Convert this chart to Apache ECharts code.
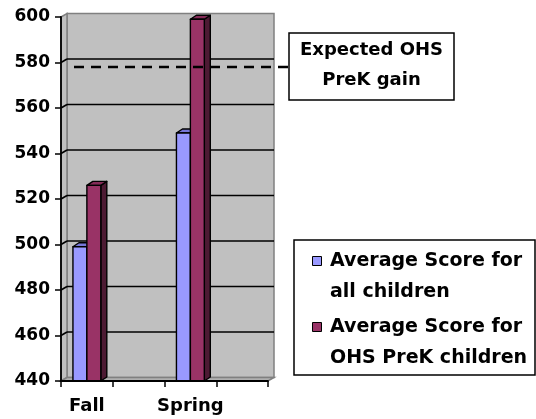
<!DOCTYPE html>
<html><head><meta charset="utf-8">
<script src="https://cdn.jsdelivr.net/npm/echarts@6/dist/echarts.min.js"></script>
<style>html,body{margin:0;padding:0;background:#fff}#c{width:536px;height:419px}</style>
</head><body><div id="c"></div>
<script>
// ---- data ----
const categories = ['Fall', '', 'Spring', ''];
const allChildren = [499, null, 549, null];
const ohsPrek = [526, null, 599, null];
const seriesNames = ['Average Score for\nall children', 'Average Score for\nOHS PreK children'];
const yMin = 440, yMax = 600, yInterval = 20;
const expectedGain = 578;
const calloutText = 'Expected OHS\nPreK gain';

// ---- style ----
const FONT = 'DejaVu Sans';
const DX = 6, DY = -3.5;           // 3D depth of walls
const BDX = 6, BDY = -4;           // 3D depth of bars
const palette = [
  {front: '#9999FF', top: '#7777d9', side: '#4d4d80'},
  {front: '#993366', top: '#852b58', side: '#4d1a33'}
];

const chart = echarts.init(document.getElementById('c'), null, {renderer: 'canvas'});

function wallsRender(params, api) {
  const cs = params.coordSys;
  const x0 = cs.x, x1 = cs.x + cs.width, yt = cs.y, yb = cs.y + cs.height;
  const children = [];
  children.push({type: 'rect', shape: {x: x0 + DX, y: yt + DY, width: cs.width, height: cs.height},
    style: {fill: '#C0C0C0', stroke: '#808080', lineWidth: 1.5}});
  children.push({type: 'polygon', shape: {points: [[x0, yt], [x0 + DX, yt + DY], [x0 + DX, yb + DY], [x0, yb]]},
    style: {fill: '#C0C0C0', stroke: '#808080', lineWidth: 1.5}});
  children.push({type: 'polygon', shape: {points: [[x0, yb], [x0 + DX, yb + DY], [x1 + DX, yb + DY], [x1, yb]]},
    style: {fill: '#b0b0b0', stroke: '#808080', lineWidth: 1.5}});
  for (let v = yMin + yInterval; v < yMax; v += yInterval) {
    const y = api.coord([0, v])[1];
    children.push({type: 'line', shape: {x1: x0 + DX, y1: y + DY, x2: x1 + DX, y2: y + DY},
      style: {stroke: '#000', lineWidth: 1.6}});
    children.push({type: 'line', shape: {x1: x0, y1: y, x2: x0 + DX, y2: y + DY},
      style: {stroke: '#000', lineWidth: 1.6}});
  }
  return {type: 'group', children: children};
}

function barRender(idx) {
  return function (params, api) {
    const val = api.value(1);
    if (val == null || isNaN(val)) return null;
    const cat = api.value(0);
    const top = api.coord([cat, val]);
    const base = api.coord([cat, yMin]);
    const band = api.size([1, 0])[0];
    const w = band * 14 / 52;
    const x = idx === 0 ? top[0] - w : top[0];
    const yT = top[1], yB = base[1];
    const c = palette[idx];
    const st = {stroke: '#000', lineWidth: 1.4, lineJoin: 'round'};
    return {type: 'group', children: [
      {type: 'polygon', shape: {points: [[x + w, yT], [x + w + BDX, yT + BDY], [x + w + BDX, yB + BDY], [x + w, yB]]},
        style: Object.assign({fill: c.side}, st)},
      {type: 'polygon', shape: {points: [[x, yT], [x + BDX, yT + BDY], [x + w + BDX, yT + BDY], [x + w, yT]]},
        style: Object.assign({fill: c.top}, st)},
      {type: 'rect', shape: {x: x, y: yT, width: w, height: yB - yT},
        style: Object.assign({fill: c.front}, st)}
    ]};
  };
}

function expectedRender(params, api) {
  const cs = params.coordSys;
  const y = api.coord([0, api.value(1)])[1];
  return {type: 'line', shape: {x1: cs.x + 13, y1: y, x2: cs.x + cs.width + 21, y2: y},
    style: {stroke: '#000', lineWidth: 2.5, lineDash: [10, 7]}};
}

const toData = arr => arr.map((v, i) => [i, v]).filter(d => d[1] != null);

const axisText = {color: '#000', fontFamily: FONT, fontWeight: 'bold'};

const option = {
  animation: false,
  backgroundColor: '#fff',
  grid: {left: 61, top: 17, right: 268, bottom: 38, containLabel: false, outerBoundsMode: 'none'},
  xAxis: {
    type: 'category', data: categories, boundaryGap: true, z: 5,
    axisLine: {show: true, lineStyle: {color: '#000', width: 1.8}},
    axisTick: {show: true, interval: 0, length: 6, lineStyle: {color: '#000', width: 1.5}},
    axisLabel: Object.assign({interval: 0, margin: 16, fontSize: 18}, axisText),
    splitLine: {show: false}
  },
  yAxis: {
    type: 'value', min: yMin, max: yMax, interval: yInterval, z: 5,
    axisLine: {show: true, lineStyle: {color: '#000', width: 1.8}},
    axisTick: {show: true, length: 6, lineStyle: {color: '#000', width: 1.5}},
    axisLabel: Object.assign({margin: 11, fontSize: 17}, axisText),
    splitLine: {show: false}
  },
  series: [
    {type: 'custom', name: 'walls', z: 1, silent: true, renderItem: wallsRender, data: [[0, yMin]], clip: false},
    {type: 'custom', name: seriesNames[0], z: 2, renderItem: barRender(0), data: toData(allChildren), clip: false},
    {type: 'custom', name: seriesNames[1], z: 3, renderItem: barRender(1), data: toData(ohsPrek), clip: false},
    {type: 'custom', name: 'Expected', z: 6, renderItem: expectedRender, data: [[0, expectedGain]], clip: false}
  ],
  graphic: [
    {type: 'rect', shape: {x: 289, y: 33, width: 165, height: 67}, z: 10,
      style: {fill: '#fff', stroke: '#000', lineWidth: 1.5}},
    {type: 'text', x: 371.5, y: 65, z: 11,
      style: {text: calloutText, fill: '#000', fontFamily: FONT, fontWeight: 'bold', fontSize: 18,
        lineHeight: 30, align: 'center', verticalAlign: 'middle'}},
    {type: 'rect', shape: {x: 294, y: 240, width: 241, height: 135}, z: 10,
      style: {fill: '#fff', stroke: '#000', lineWidth: 1.5}},
    {type: 'rect', shape: {x: 312.5, y: 256.5, width: 9, height: 9}, z: 11,
      style: {fill: palette[0].front, stroke: '#000', lineWidth: 1}},
    {type: 'text', x: 330, y: 245.5, z: 11,
      style: {text: seriesNames[0], fill: '#000', fontFamily: FONT, fontWeight: 'bold', fontSize: 19,
        lineHeight: 31, align: 'left', verticalAlign: 'top'}},
    {type: 'rect', shape: {x: 312.5, y: 322.5, width: 9, height: 9}, z: 11,
      style: {fill: palette[1].front, stroke: '#000', lineWidth: 1}},
    {type: 'text', x: 330, y: 311.5, z: 11,
      style: {text: seriesNames[1], fill: '#000', fontFamily: FONT, fontWeight: 'bold', fontSize: 19,
        lineHeight: 31, align: 'left', verticalAlign: 'top'}}
  ]
};
chart.setOption(option);
</script></body></html>
